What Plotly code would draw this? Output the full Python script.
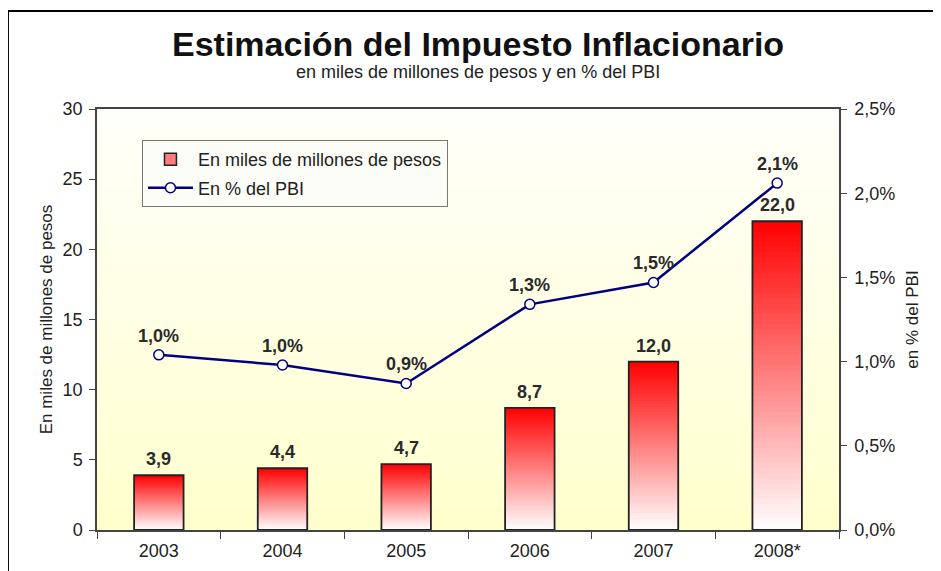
import plotly.graph_objects as go

categories = ['2003', '2004', '2005', '2006', '2007', '2008*']
pesos = [3.9, 4.4, 4.7, 8.7, 12.0, 22.0]
pbi = [1.04, 0.98, 0.87, 1.34, 1.47, 2.06]
left_ticks = [0, 5, 10, 15, 20, 25, 30]
right_ticks = [0, 0.5, 1.0, 1.5, 2.0, 2.5]
right_tick_labels = ['0,0%', '0,5%', '1,0%', '1,5%', '2,0%', '2,5%']

FONT = 'Liberation Sans, Arial, sans-serif'
TXT = '#222222'

fig = go.Figure()

# gradient bars (white at bottom -> red at top) built from overlaid bar segments
N = 60
for i in range(N):
    f = i / N
    t = (i + 0.5) / N
    g = int(round(255 * (1 - t)))
    col = f'rgb(255,{g},{g})'
    fig.add_trace(go.Bar(
        x=categories, y=[v * (1 - f) for v in pesos], base=[v * f for v in pesos],
        width=0.4, marker=dict(color=col, line=dict(width=0)),
        showlegend=False, hoverinfo='skip'))

# bar outline
fig.add_trace(go.Bar(
    x=categories, y=pesos, width=0.4,
    marker=dict(color='rgba(0,0,0,0)', line=dict(color='#222222', width=1.8)),
    showlegend=False, hovertemplate='%{x}: %{y:.1f}<extra></extra>'))

# legend entry for bars
fig.add_trace(go.Bar(
    x=categories, y=[None] * len(categories), name='En miles de millones de pesos',
    legendgroup='a',
    marker=dict(color='#ff7a7a', line=dict(color='#222222', width=1.5))))

# line on secondary axis
fig.add_trace(go.Scatter(
    x=categories, y=pbi, yaxis='y2', mode='lines+markers', name='En % del PBI',
    legendgroup='b',
    line=dict(color='#000080', width=2.5),
    marker=dict(symbol='circle', size=10, color='white',
                line=dict(color='#000080', width=1.5))))

annotations = []
for i, v in enumerate(pesos):
    annotations.append(dict(x=i, y=v, xref='x', yref='y', text='<b>' + f'{v:.1f}'.replace('.', ',') + '</b>',
                            showarrow=False, yanchor='middle', yshift=16,
                            font=dict(family=FONT, size=18, color='#2a2a2a')))
for i, v in enumerate(pbi):
    annotations.append(dict(x=i, y=v, xref='x', yref='y2', text='<b>' + f'{v:.1f}'.replace('.', ',') + '%</b>',
                            showarrow=False, yanchor='middle', yshift=19,
                            font=dict(family=FONT, size=18, color='#2a2a2a')))

annotations.append(dict(x=0.5135, y=1.1544, xref='paper', yref='paper', yanchor='middle',
                        text='<b>Estimación del Impuesto Inflacionario</b>',
                        showarrow=False, font=dict(family=FONT, size=34, color='#111111')))
annotations.append(dict(x=0.513, y=1.0879, xref='paper', yref='paper', yanchor='middle',
                        text='en miles de millones de pesos y en % del PBI',
                        showarrow=False, font=dict(family=FONT, size=18, color=TXT)))

# background gradient bands (white-ish top -> pale yellow bottom)
shapes = []
B = 60
for k in range(B):
    t = (k + 0.5) / B  # 0 bottom -> 1 top
    bcomp = int(round(204 + (250 - 204) * t))
    shapes.append(dict(type='rect', xref='paper', yref='paper', x0=0, x1=1,
                       y0=k / B, y1=(k + 1) / B, layer='below',
                       fillcolor=f'rgb(255,255,{bcomp})', line=dict(width=0)))
# outer frame
shapes.append(dict(type='rect', xref='paper', yref='paper', x0=-0.12, x1=1.15,
                   y0=-0.12, y1=1.2328, line=dict(color='black', width=2),
                   fillcolor='rgba(0,0,0,0)', layer='above'))

fig.update_layout(
    width=941, height=571,
    margin=dict(l=89, r=110, t=101, b=49, autoexpand=False),
    paper_bgcolor='white', plot_bgcolor='white',
    barmode='overlay', separators=',.',
    font=dict(family=FONT, size=18, color=TXT),
    showlegend=True,
    legend=dict(x=0.0606, y=0.926, xanchor='left', yanchor='top',
                bgcolor='#fdfdf7', bordercolor='#777777', borderwidth=1,
                itemwidth=45,
                font=dict(family=FONT, size=18, color=TXT), tracegroupgap=2),
    xaxis=dict(type='category', categoryorder='array', categoryarray=categories,
               range=[-0.5, len(categories) - 0.5], showgrid=False, showline=True,
               linecolor='#444444', linewidth=1.5, mirror=True, ticks='outside',
               tickson='boundaries', tickangle=0, ticklabelstandoff=4,
               ticklen=7, tickcolor='#444444', tickfont=dict(size=18, color=TXT)),
    yaxis=dict(range=[0, 30], tickvals=left_ticks, showgrid=False, zeroline=False,
               showline=True, linecolor='#444444', linewidth=1.5, ticks='outside',
               ticklabelstandoff=3,
               ticklen=6, tickcolor='#444444', tickfont=dict(size=18, color=TXT),
               title=dict(text='En miles de millones de pesos', font=dict(size=17, color=TXT),
                          standoff=6)),
    yaxis2=dict(range=[0, 2.5], tickvals=right_ticks, ticktext=right_tick_labels,
                overlaying='y', side='right', showgrid=False, zeroline=False,
                showline=True, linecolor='#444444', linewidth=1.5, ticks='outside',
                ticklabelstandoff=4,
                ticklen=6, tickcolor='#444444', tickfont=dict(size=18, color=TXT),
                title=dict(text='en % del PBI', font=dict(size=17, color=TXT), standoff=12)),
    annotations=annotations, shapes=shapes,
)

fig.write_html('out.html')
